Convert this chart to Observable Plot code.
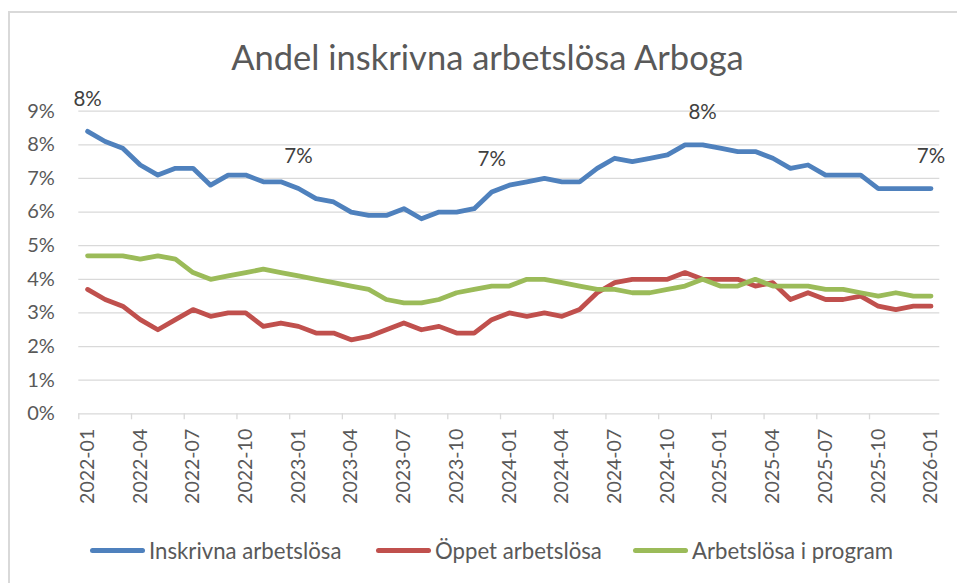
<!DOCTYPE html>
<html><head><meta charset="utf-8">
<script src="https://cdn.jsdelivr.net/npm/d3@7"></script>
<script src="https://cdn.jsdelivr.net/npm/@observablehq/plot@0.6"></script>
<style>
html,body{margin:0;padding:0;background:#fff;width:957px;height:583px;overflow:hidden}
#wrap{position:relative;width:957px;height:583px;overflow:hidden;font-family:Lato,"Open Sans",sans-serif}
#frame{position:absolute;left:8px;top:11px;width:1000px;height:1000px;border:2px solid #d9d9d9;box-sizing:border-box}
#chart{position:absolute;left:0;top:0}
#title{position:absolute;left:9px;top:35px;width:957px;text-align:center;font-size:34.5px;color:#595959;line-height:44px}
.leg{position:absolute;top:537px;height:26px;display:flex;align-items:center;font-size:22.2px;color:#595959;white-space:nowrap}
.sw{display:inline-block;width:55px;height:5px;border-radius:3px;margin-right:4px}
</style></head>
<body><div id="wrap"><div id="frame"></div><div id="chart"></div><div id="title">Andel inskrivna arbetslösa Arboga</div><div id="legend"></div></div>
<script>
const months = ["2022-01","2022-02","2022-03","2022-04","2022-05","2022-06","2022-07","2022-08","2022-09","2022-10","2022-11","2022-12",
"2023-01","2023-02","2023-03","2023-04","2023-05","2023-06","2023-07","2023-08","2023-09","2023-10","2023-11","2023-12",
"2024-01","2024-02","2024-03","2024-04","2024-05","2024-06","2024-07","2024-08","2024-09","2024-10","2024-11","2024-12",
"2025-01","2025-02","2025-03","2025-04","2025-05","2025-06","2025-07","2025-08","2025-09","2025-10","2025-11","2025-12","2026-01"];
const seriesNames = ["Inskrivna arbetslösa","Öppet arbetslösa","Arbetslösa i program"];
const seriesColors = ["#4F81BD","#C0504D","#9BBB59"];
const inskrivna = [8.4,8.1,7.9,7.4,7.1,7.3,7.3,6.8,7.1,7.1,6.9,6.9,6.7,6.4,6.3,6.0,5.9,5.9,6.1,5.8,6.0,6.0,6.1,6.6,6.8,6.9,7.0,6.9,6.9,7.3,7.6,7.5,7.6,7.7,8.0,8.0,7.9,7.8,7.8,7.6,7.3,7.4,7.1,7.1,7.1,6.7,6.7,6.7,6.7];
const oppet = [3.7,3.4,3.2,2.8,2.5,2.8,3.1,2.9,3.0,3.0,2.6,2.7,2.6,2.4,2.4,2.2,2.3,2.5,2.7,2.5,2.6,2.4,2.4,2.8,3.0,2.9,3.0,2.9,3.1,3.6,3.9,4.0,4.0,4.0,4.2,4.0,4.0,4.0,3.8,3.9,3.4,3.6,3.4,3.4,3.5,3.2,3.1,3.2,3.2];
const program = [4.7,4.7,4.7,4.6,4.7,4.6,4.2,4.0,4.1,4.2,4.3,4.2,4.1,4.0,3.9,3.8,3.7,3.4,3.3,3.3,3.4,3.6,3.7,3.8,3.8,4.0,4.0,3.9,3.8,3.7,3.7,3.6,3.6,3.7,3.8,4.0,3.8,3.8,4.0,3.8,3.8,3.8,3.7,3.7,3.6,3.5,3.6,3.5,3.5];
const labelMonths = ["2022-01","2023-01","2023-12","2024-12","2026-01"];
const yTicks = [0,1,2,3,4,5,6,7,8,9];
const xTickLabels = months.filter((m,i)=>i%3===0);

const allSeries = [inskrivna, oppet, program];
const rows = [];
allSeries.forEach((arr,k)=>arr.forEach((v,i)=>rows.push({i, v, s: seriesNames[k], m: months[i]})));
const labelRows = labelMonths.map(m=>{const i=months.indexOf(m); return {i, v: inskrivna[i]};});
const labelIdx = xTickLabels.map(m=>months.indexOf(m));
const boundaryIdx = labelIdx.slice(0,-1).map(i=>i-0.5);

const grid = "#d9d9d9", txt = "#595959";
const plot = Plot.plot({
  width: 957, height: 583,
  marginLeft: 78.3, marginRight: 17.7, marginTop: 110.7, marginBottom: 169.7,
  style: {fontFamily: "Lato, 'Open Sans', sans-serif", background: "transparent", color: txt},
  x: {type: "linear", domain: [-0.5, months.length - 0.5]},
  y: {domain: [0, 9]},
  color: {domain: seriesNames, range: seriesColors},
  marks: [
    Plot.ruleY(yTicks, {stroke: grid, strokeWidth: 1.3}),
    Plot.axisY({ticks: yTicks, tickSize: 0, tickPadding: 24, tickFormat: d => `${d}%`, fontSize: 20, fill: txt, label: null}),
    Plot.axisX({ticks: boundaryIdx, tickSize: 6, tickFormat: () => "", stroke: grid, strokeWidth: 1.3, label: null}),
    Plot.axisX({ticks: labelIdx, tickSize: 0, tickPadding: 15, tickRotate: -90, tickFormat: i => months[i], fontSize: 19.5, fill: txt, label: null}),
    Plot.line(rows, {x: "i", y: "v", z: "s", stroke: "s", strokeWidth: 4.8, strokeLinejoin: "round", strokeLinecap: "round"}),
    Plot.text(labelRows, {x: "i", y: "v", text: d => `${Math.round(d.v)}%`, dy: -32, fontSize: 20.5, fill: "#404040"})
  ]
});
document.getElementById("chart").appendChild(plot);

const legendPos = [90, 376, 633];
const legend = document.getElementById("legend");
seriesNames.forEach((n,k)=>{
  const d = document.createElement("div");
  d.className = "leg"; d.style.left = legendPos[k] + "px";
  d.innerHTML = `<span class="sw" style="background:${seriesColors[k]}"></span>${n}`;
  legend.appendChild(d);
});
</script></body></html>
